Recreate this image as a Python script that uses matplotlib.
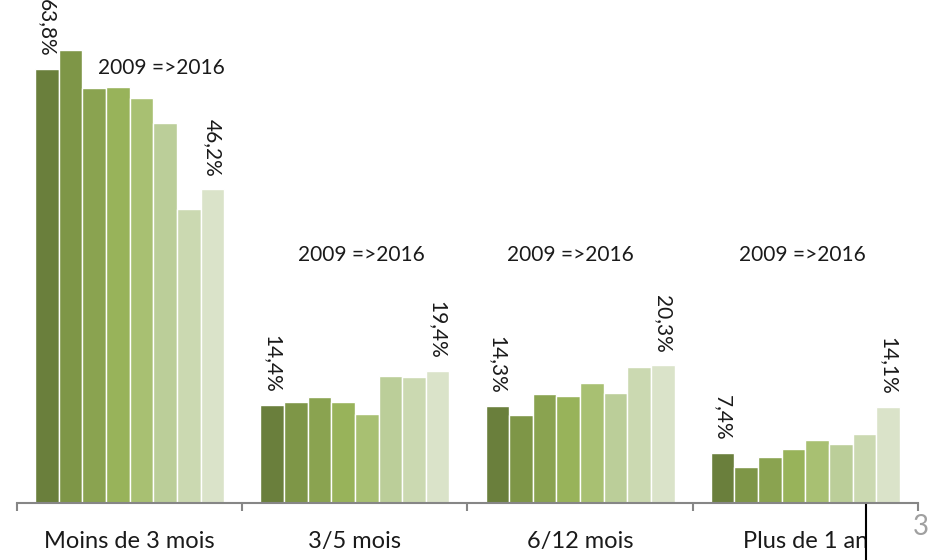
import numpy as np
import matplotlib
matplotlib.use("Agg")
import matplotlib.pyplot as plt
from matplotlib.lines import Line2D

plt.rcParams['font.family'] = ['Lato', 'DejaVu Sans']

# Données
categories = ["Moins de 3 mois", "3/5 mois", "6/12 mois", "Plus de 1 an"]
annees = [2009, 2010, 2011, 2012, 2013, 2014, 2015, 2016]
valeurs = [
    [63.8, 66.6, 61.1, 61.2, 59.6, 55.9, 43.2, 46.2],
    [14.4, 14.8, 15.6, 14.8, 13.1, 18.7, 18.5, 19.4],
    [14.3, 12.9, 16.1, 15.7, 17.6, 16.2, 20.0, 20.3],
    [7.4, 5.3, 6.7, 8.0, 9.2, 8.7, 10.2, 14.1],
]
etiquette_periode = "2009 =>2016"
couleurs = ["#6a7f3c", "#7e9647", "#8aa350", "#98b35a",
            "#a8c072", "#bbce99", "#cbd9b1", "#dae3c9"]

# Figure
fig = plt.figure(figsize=(9.29, 5.60), dpi=100)
ax = fig.add_axes([17 / 929, 57 / 560, 901 / 929, 503 / 560])

x = np.arange(len(categories))
largeur = 0.105
n = len(annees)
for j in range(n):
    pos = x + (j - (n - 1) / 2) * largeur
    hauteurs = [v[j] for v in valeurs]
    ax.bar(pos, hauteurs, width=largeur, color=couleurs[j],
           edgecolor="white", linewidth=1.0, zorder=2)
    # Étiquettes sur la première et la dernière année
    if j in (0, n - 1):
        for xb, h in zip(pos, hauteurs):
            ax.annotate(f"{h:.1f}%".replace(".", ","), (xb, h),
                        xytext=(0, 9), textcoords="offset points",
                        rotation=-90, ha="center", va="bottom",
                        fontsize=15, color="#1a1a1a", annotation_clip=False)

# Texte "2009 =>2016" au-dessus de chaque groupe
decalages = [0.142, 0.03, -0.042, -0.012]
hauteurs_txt = [64.0, 36.5, 36.5, 36.5]
for i in range(len(categories)):
    ax.text(x[i] + decalages[i], hauteurs_txt[i], etiquette_periode,
            ha="center", va="center", fontsize=15, color="#1a1a1a")

# Axes
ax.set_xlim(-0.5, 3.5)
ax.set_ylim(0, 503 / 6.8)
for s in ["top", "right", "left"]:
    ax.spines[s].set_visible(False)
ax.spines["bottom"].set_color("#868686")
ax.spines["bottom"].set_linewidth(1.5)
ax.set_yticks([])

ax.set_xticks(np.arange(-0.5, 4.0, 1.0))
ax.set_xticklabels([])
ax.tick_params(axis="x", which="major", length=6, width=1.5, color="#868686")
ax.set_xticks(x, minor=True)
ax.set_xticklabels(categories, minor=True, fontsize=17, color="#1a1a1a")
ax.tick_params(axis="x", which="minor", length=0, pad=20)

# Numéro de page et trait vertical de la capture
fig.text(921 / 929, 1 - 527 / 560, "3", ha="center", va="center",
         fontsize=20, color="#a0a0a0")
fig.add_artist(Line2D([866 / 929, 866 / 929], [0, 1 - 505 / 560],
                      color="black", linewidth=1.5))

plt.savefig("out.png", dpi=100)
